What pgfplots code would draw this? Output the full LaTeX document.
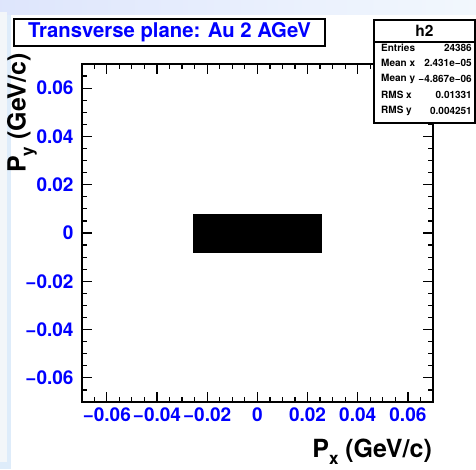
\documentclass[border=0pt]{standalone}
\usepackage{fontspec}
\setmainfont{TeX Gyre Heros}
\usepackage{pgfplots}
\pgfplotsset{compat=1.18}
\definecolor{rootblue}{RGB}{0,0,255}
\definecolor{slideblue}{RGB}{222,236,250}
\definecolor{slidepale}{RGB}{243,246,249}
\begin{document}
\begin{tikzpicture}
\begin{scope}[x=1pt,y=1pt]
% slide background
\fill[slideblue] (0,0) rectangle (476,469);
\shade[left color=slideblue!90!blue!60!white, right color=slideblue!40] (0,454) rectangle (476,469);
\fill[slidepale] (0,7) rectangle (7,457);
\fill[white] (11,0) rectangle (476,454);
\end{scope}

\begin{axis}[
  at={(81.7pt,67pt)}, anchor=south west,
  scale only axis, width=351.3pt, height=338pt,
  xmin=-0.07, xmax=0.07, ymin=-0.07, ymax=0.07,
  clip=false,
  xtick scale label code/.code={}, ytick scale label code/.code={},
  tick align=inside,
  major tick length=10pt, minor tick length=5pt,
  major tick style={draw=black, line width=1.2pt},
  minor tick style={draw=black, line width=1.2pt},
  xtick={-0.06,-0.04,-0.02,0,0.02,0.04,0.06},
  ytick={-0.06,-0.04,-0.02,0,0.02,0.04,0.06},
  xticklabels={−0.06,−0.04,−0.02,0,0.02,0.04,0.06},
  yticklabels={−0.06,−0.04,−0.02,0,0.02,0.04,0.06},
  minor x tick num=3, minor y tick num=3,
  xticklabel style={font=\fontsize{19}{19}\selectfont\bfseries, text=rootblue, inner sep=0pt, yshift=-6pt},
  yticklabel style={font=\fontsize{19}{19}\selectfont\bfseries, text=rootblue, inner sep=0pt, xshift=-8pt},
]
% beam spot in the transverse plane
\addplot[fill=black, draw=black, line width=0.4pt]
  coordinates {(-0.0256,-0.0078) (0.0256,-0.0078) (0.0256,0.0076) (-0.0256,0.0076)} -- cycle;
% heavy frame
\draw[line width=1.6pt] (rel axis cs:0,0) rectangle (rel axis cs:1,1);
% inward ticks on all four sides
\pgfplotsinvokeforeach{-0.06,-0.04,-0.02,0,0.02,0.04,0.06}{
  \draw[line width=1.2pt] (axis cs:#1,-0.07) -- ++(0pt,10pt);
  \draw[line width=1.2pt] (axis cs:#1,0.07) -- ++(0pt,-10pt);
  \draw[line width=1.2pt] (axis cs:-0.07,#1) -- ++(10pt,0pt);
  \draw[line width=1.2pt] (axis cs:0.07,#1) -- ++(-10pt,0pt);
}
\pgfplotsinvokeforeach{-0.065,-0.055,-0.05,-0.045,-0.035,-0.03,-0.025,-0.015,-0.01,-0.005,0.005,0.01,0.015,0.025,0.03,0.035,0.045,0.05,0.055,0.065}{
  \draw[line width=1.2pt] (axis cs:#1,-0.07) -- ++(0pt,5pt);
  \draw[line width=1.2pt] (axis cs:#1,0.07) -- ++(0pt,-5pt);
  \draw[line width=1.2pt] (axis cs:-0.07,#1) -- ++(5pt,0pt);
  \draw[line width=1.2pt] (axis cs:0.07,#1) -- ++(-5pt,0pt);
}
\end{axis}

\begin{scope}[x=1pt,y=1pt]
% axis titles
\node[anchor=base east, inner sep=0pt, font=\fontsize{25}{25}\selectfont\bfseries]
  at (432,12) {P\raisebox{-0.3em}{\fontsize{17}{17}\selectfont x} (GeV/c)};
\node[anchor=base east, rotate=90, inner sep=0pt, font=\fontsize{25}{25}\selectfont\bfseries]
  at (25.5,416) {P\raisebox{-0.3em}{\fontsize{17}{17}\selectfont y} (GeV/c)};

% title box
\draw[fill=white, line width=1.4pt] (14,423) rectangle (325,450);
\node[text=rootblue, font=\fontsize{20.3}{21}\selectfont\bfseries] at (169.5,436.5) {Transverse plane: Au 2 AGeV};

% statistics box
\draw[fill=white, line width=1.4pt] (374,346) rectangle (475,449);
\draw[line width=1.2pt] (374,427) -- (475,427);
\node[font=\fontsize{15.5}{16}\selectfont\bfseries] at (424.5,438) {h2};
\begin{scope}[every node/.style={inner sep=0pt, font=\fontsize{10}{10}\selectfont\bfseries}]
  \node[anchor=west] at (381,421.3) {Entries};
  \node[anchor=east] at (472,421.3) {24386};
  \node[anchor=west] at (381,405.7) {Mean x};
  \node[anchor=east] at (472,405.7) {2.431e−05};
  \node[anchor=west] at (381,390) {Mean y};
  \node[anchor=east] at (472,390) {−4.867e−06};
  \node[anchor=west] at (381,374) {RMS x};
  \node[anchor=east] at (472,374) {0.01331};
  \node[anchor=west] at (381,358) {RMS y};
  \node[anchor=east] at (472,358) {0.004251};
\end{scope}
\end{scope}
\end{tikzpicture}
\end{document}
